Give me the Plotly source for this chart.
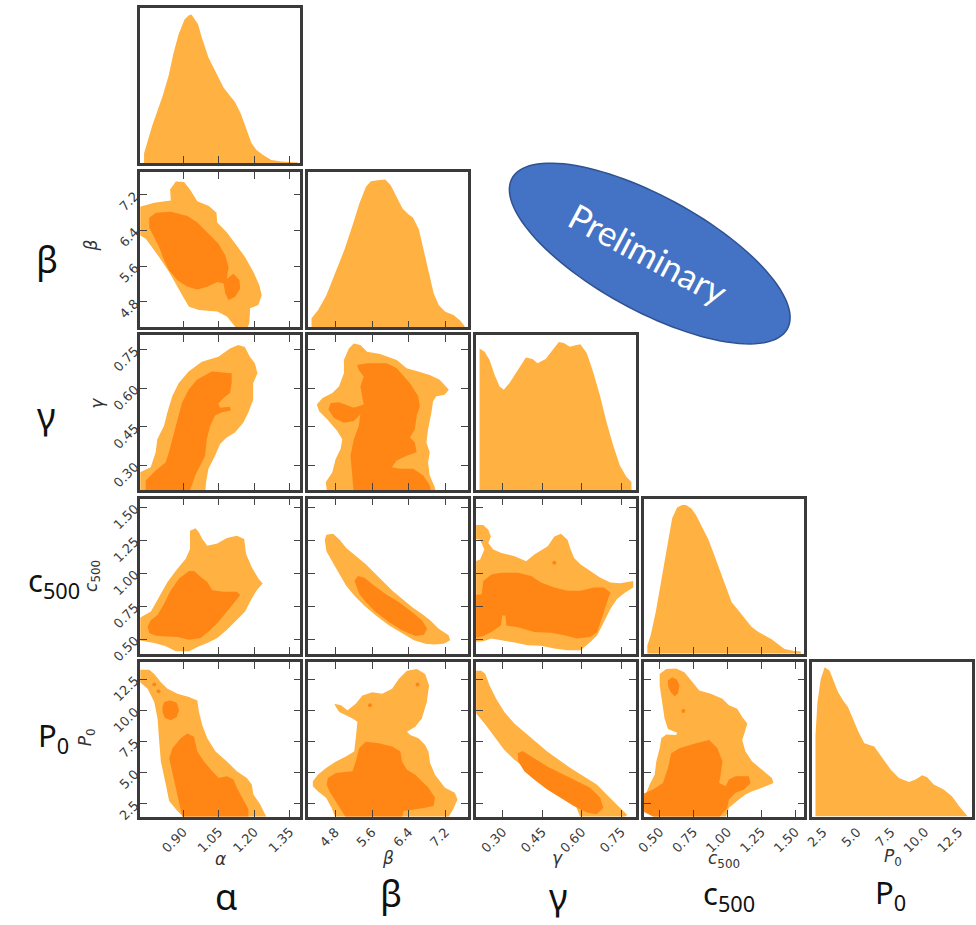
import numpy as np
import plotly.graph_objects as go

# ------------------------------------------------------------------ data
params = ["alpha", "beta", "gamma", "c500", "P0"]

# axis ranges (x for columns, y for rows)
alpha_xrange = [0.718, 1.394]
beta_xrange = [4.211, 7.683]
gamma_xrange = [0.199, 0.805]
c500_xrange = [0.385, 1.567]
P0_xrange = [1.645, 13.465]
beta_yrange = [4.232, 7.702]
gamma_yrange = [0.203, 0.805]
c500_yrange = [0.3875, 1.565]
P0_yrange = [1.468, 13.886]

alpha_ticks = [0.90, 1.05, 1.20, 1.35]
beta_ticks = [4.8, 5.6, 6.4, 7.2]
gamma_ticks = [0.30, 0.45, 0.60, 0.75]
c500_ticks = [0.50, 0.75, 1.00, 1.25, 1.50]
P0_ticks = [2.5, 5.0, 7.5, 10.0, 12.5]
alpha_ticklabels = ["0.90", "1.05", "1.20", "1.35"]
beta_ticklabels = ["4.8", "5.6", "6.4", "7.2"]
gamma_ticklabels = ["0.30", "0.45", "0.60", "0.75"]
c500_ticklabels = ["0.50", "0.75", "1.00", "1.25", "1.50"]
P0_ticklabels = ["2.5", "5.0", "7.5", "10.0", "12.5"]

# 1D marginal densities (relative height)
alpha_grid = [0.734, 0.769, 0.811, 0.838, 0.859, 0.880, 0.905, 0.922, 0.934, 0.943, 0.962, 0.978,
              1.006, 1.041, 1.069, 1.090, 1.118, 1.143, 1.167, 1.188, 1.209, 1.237, 1.272, 1.314, 1.383]
alpha_density = [0.064, 0.245, 0.426, 0.564, 0.713, 0.830, 0.926, 0.951, 0.957, 0.936, 0.894, 0.809,
                 0.681, 0.574, 0.489, 0.447, 0.394, 0.319, 0.213, 0.128, 0.085, 0.053, 0.021, 0.011, 0.004]
beta_grid = [4.283, 4.427, 4.606, 4.787, 5.003, 5.182, 5.326, 5.468, 5.576, 5.721, 5.887, 6.007, 6.152,
             6.260, 6.389, 6.490, 6.620, 6.727, 6.835, 6.943, 7.051, 7.193, 7.374, 7.517, 7.611]
beta_density = [0.059, 0.112, 0.207, 0.345, 0.503, 0.662, 0.799, 0.905, 0.941, 0.947, 0.953, 0.915, 0.831,
                0.767, 0.729, 0.708, 0.630, 0.493, 0.345, 0.218, 0.144, 0.101, 0.080, 0.044, 0.011]
gamma_grid = [0.212, 0.231, 0.250, 0.269, 0.288, 0.304, 0.325, 0.356, 0.388, 0.413, 0.432, 0.463, 0.488,
              0.513, 0.532, 0.555, 0.576, 0.595, 0.620, 0.645, 0.670, 0.695, 0.720, 0.745, 0.770, 0.789]
gamma_density = [0.915, 0.894, 0.840, 0.745, 0.670, 0.649, 0.691, 0.777, 0.857, 0.847, 0.819, 0.847, 0.904,
                 0.957, 0.951, 0.926, 0.936, 0.943, 0.883, 0.755, 0.606, 0.436, 0.287, 0.160, 0.085, 0.053]
c500_grid = [0.409, 0.434, 0.471, 0.500, 0.531, 0.563, 0.592, 0.629, 0.665, 0.694, 0.734, 0.768, 0.811, 0.860,
             0.897, 0.946, 0.994, 1.031, 1.080, 1.129, 1.177, 1.226, 1.275, 1.323, 1.372, 1.421, 1.494, 1.542]
c500_density = [0.053, 0.121, 0.269, 0.417, 0.587, 0.735, 0.873, 0.943, 0.958, 0.958, 0.936, 0.894, 0.820, 0.735,
                0.650, 0.534, 0.407, 0.333, 0.280, 0.227, 0.174, 0.142, 0.117, 0.095, 0.064, 0.032, 0.019, 0.015]
P0_grid = [1.937, 2.083, 2.325, 2.617, 2.982, 3.304, 3.597, 3.962, 4.328, 4.693, 5.102, 5.541, 6.272,
           6.886, 7.493, 8.099, 8.830, 9.320, 9.810, 10.176, 10.658, 11.389, 12.003, 12.610, 13.143]
P0_density = [0.527, 0.740, 0.889, 0.964, 0.942, 0.868, 0.804, 0.751, 0.708, 0.633, 0.548, 0.473, 0.452,
              0.377, 0.303, 0.249, 0.224, 0.239, 0.267, 0.254, 0.207, 0.175, 0.132, 0.058, 0.004]

# 2D credible regions: "_2s" = outer (light), "_1s" = inner (dark); vertices in data units
alpha_beta_2s = [(0.70, 6.906), (0.777, 7.016), (0.847, 7.068), (0.844, 7.311), (0.868, 7.495), (0.903, 7.481),
                 (0.928, 7.311), (0.959, 7.053), (1.008, 6.943), (1.040, 6.795), (1.043, 6.574), (1.084, 6.353),
                 (1.126, 6.059), (1.161, 5.801), (1.196, 5.469), (1.221, 5.175), (1.231, 4.954), (1.217, 4.733),
                 (1.182, 4.659), (1.179, 4.327), (1.168, 4.20), (1.126, 4.20), (1.084, 4.475), (1.043, 4.585),
                 (0.966, 4.622), (0.924, 4.696), (0.903, 4.880), (0.875, 5.138), (0.840, 5.469), (0.798, 5.801),
                 (0.763, 6.059), (0.742, 6.206), (0.70, 6.353)]
alpha_beta_1s = [(0.756, 6.685), (0.784, 6.795), (0.847, 6.818), (0.917, 6.722), (0.959, 6.574), (1.001, 6.353),
                 (1.049, 6.096), (1.077, 5.838), (1.091, 5.580), (1.084, 5.322), (1.112, 5.433), (1.137, 5.285),
                 (1.140, 5.101), (1.119, 4.917), (1.091, 4.843), (1.077, 4.990), (1.070, 5.212), (1.043, 5.248),
                 (1.001, 5.138), (0.959, 5.079), (0.917, 5.138), (0.875, 5.285), (0.840, 5.506), (0.819, 5.727),
                 (0.798, 6.022), (0.777, 6.243), (0.756, 6.464)]

alpha_gamma_2s = [(0.70, 0.19), (0.70, 0.266), (0.762, 0.292), (0.783, 0.350), (0.790, 0.401), (0.818, 0.452),
                  (0.832, 0.504), (0.853, 0.568), (0.880, 0.619), (0.922, 0.664), (0.978, 0.702), (1.048, 0.722),
                  (1.097, 0.754), (1.132, 0.767), (1.160, 0.760), (1.181, 0.722), (1.202, 0.696), (1.213, 0.658),
                  (1.195, 0.619), (1.195, 0.555), (1.174, 0.504), (1.153, 0.465), (1.118, 0.427), (1.083, 0.408),
                  (1.055, 0.382), (1.034, 0.337), (1.006, 0.286), (0.996, 0.234), (0.992, 0.19)]
alpha_gamma_1s = [(0.741, 0.19), (0.741, 0.241), (0.783, 0.279), (0.825, 0.311), (0.839, 0.350), (0.860, 0.427),
                  (0.880, 0.491), (0.894, 0.542), (0.922, 0.593), (0.957, 0.632), (1.020, 0.664), (1.104, 0.658),
                  (1.104, 0.619), (1.097, 0.581), (1.069, 0.561), (1.048, 0.540), (1.055, 0.523), (1.097, 0.527),
                  (1.100, 0.513), (1.062, 0.506), (1.034, 0.493), (1.013, 0.452), (0.999, 0.401), (0.992, 0.337),
                  (0.971, 0.299), (0.950, 0.260), (0.936, 0.222), (0.922, 0.19)]

beta_gamma_2s = [(4.628, 0.19), (4.592, 0.234), (4.736, 0.273), (4.808, 0.324), (4.916, 0.363), (4.952, 0.401),
                 (4.844, 0.433), (4.628, 0.478), (4.449, 0.510), (4.398, 0.536), (4.521, 0.561), (4.736, 0.581),
                 (4.880, 0.606), (4.988, 0.658), (4.988, 0.709), (5.096, 0.754), (5.203, 0.773), (5.347, 0.767),
                 (5.491, 0.741), (5.778, 0.732), (6.138, 0.709), (6.353, 0.677), (6.605, 0.664), (6.856, 0.651),
                 (7.072, 0.632), (7.273, 0.593), (7.180, 0.574), (7.000, 0.568), (6.928, 0.549), (6.892, 0.504),
                 (6.820, 0.440), (6.784, 0.388), (6.856, 0.350), (6.820, 0.311), (6.856, 0.260), (6.964, 0.215),
                 (7.000, 0.19)]
beta_gamma_1s = [(5.203, 0.19), (5.167, 0.260), (5.132, 0.337), (5.203, 0.401), (5.311, 0.452), (5.347, 0.497),
                 (5.203, 0.472), (4.988, 0.465), (4.772, 0.484), (4.650, 0.517), (4.700, 0.542), (4.880, 0.545),
                 (5.203, 0.523), (5.419, 0.536), (5.383, 0.568), (5.347, 0.606), (5.419, 0.645), (5.311, 0.670),
                 (5.275, 0.690), (5.491, 0.696), (5.922, 0.696), (6.138, 0.677), (6.425, 0.619), (6.605, 0.568),
                 (6.641, 0.529), (6.569, 0.491), (6.533, 0.440), (6.425, 0.408), (6.533, 0.388), (6.569, 0.350),
                 (6.353, 0.337), (6.138, 0.318), (6.030, 0.292), (6.210, 0.286), (6.497, 0.286), (6.713, 0.260),
                 (6.856, 0.222), (6.892, 0.19)]

alpha_c500_2s = [(0.70, 0.645), (0.763, 0.708), (0.798, 0.820), (0.833, 0.933), (0.875, 1.033), (0.910, 1.108),
                 (0.928, 1.183), (0.928, 1.320), (0.952, 1.340), (0.966, 1.308), (0.980, 1.258), (1.001, 1.208),
                 (1.043, 1.225), (1.084, 1.265), (1.126, 1.283), (1.157, 1.258), (1.165, 1.145), (1.189, 1.045),
                 (1.217, 0.958), (1.235, 0.920), (1.210, 0.870), (1.189, 0.808), (1.161, 0.708), (1.126, 0.645),
                 (1.084, 0.570), (1.043, 0.508), (1.001, 0.470), (0.966, 0.445), (0.924, 0.408), (0.868, 0.408),
                 (0.826, 0.445), (0.777, 0.470), (0.70, 0.495)]
alpha_c500_1s = [(0.749, 0.595), (0.763, 0.645), (0.791, 0.683), (0.819, 0.770), (0.847, 0.870), (0.882, 0.958),
                 (0.924, 1.015), (0.945, 1.015), (0.973, 0.970), (1.001, 0.933), (1.022, 0.870), (1.070, 0.858),
                 (1.126, 0.858), (1.140, 0.833), (1.112, 0.770), (1.077, 0.695), (1.043, 0.620), (1.008, 0.558),
                 (0.973, 0.508), (0.924, 0.495), (0.875, 0.515), (0.833, 0.520), (0.784, 0.525), (0.756, 0.545)]

beta_c500_2s = [(4.571, 1.253), (4.607, 1.290), (4.751, 1.298), (4.895, 1.253), (5.038, 1.190), (5.254, 1.128),
                (5.470, 1.065), (5.649, 1.003), (5.829, 0.940), (6.044, 0.865), (6.260, 0.803), (6.476, 0.740),
                (6.691, 0.690), (6.871, 0.640), (7.051, 0.578), (7.266, 0.528), (7.302, 0.490), (7.158, 0.465),
                (6.943, 0.458), (6.763, 0.465), (6.512, 0.490), (6.260, 0.540), (5.973, 0.603), (5.685, 0.678),
                (5.434, 0.753), (5.218, 0.828), (5.038, 0.903), (4.895, 0.990), (4.751, 1.078), (4.607, 1.165)]
beta_c500_1s = [(5.218, 0.940), (5.290, 0.978), (5.434, 0.965), (5.649, 0.903), (5.901, 0.840), (6.188, 0.778),
                (6.476, 0.703), (6.691, 0.640), (6.799, 0.578), (6.727, 0.533), (6.548, 0.523), (6.260, 0.565),
                (5.973, 0.628), (5.685, 0.703), (5.470, 0.778), (5.326, 0.840)]

gamma_c500_2s = [(0.182, 1.365), (0.226, 1.365), (0.245, 1.328), (0.255, 1.278), (0.245, 1.228), (0.264, 1.178),
                 (0.295, 1.153), (0.345, 1.128), (0.389, 1.090), (0.420, 1.140), (0.471, 1.203), (0.496, 1.278),
                 (0.521, 1.298), (0.546, 1.253), (0.558, 1.178), (0.571, 1.115), (0.596, 1.065), (0.633, 1.015),
                 (0.671, 0.965), (0.709, 0.928), (0.746, 0.923), (0.796, 0.940), (0.796, 0.890), (0.765, 0.853),
                 (0.734, 0.803), (0.709, 0.728), (0.690, 0.653), (0.671, 0.578), (0.659, 0.528), (0.633, 0.478),
                 (0.596, 0.415), (0.546, 0.415), (0.496, 0.428), (0.445, 0.448), (0.395, 0.453), (0.345, 0.473),
                 (0.295, 0.490), (0.257, 0.503), (0.226, 0.483), (0.182, 0.478), (0.182, 1.078), (0.214, 1.103),
                 (0.230, 1.178), (0.214, 1.253), (0.182, 1.265)]
gamma_c500_1s = [(0.182, 0.828), (0.220, 0.840), (0.226, 0.940), (0.257, 0.990), (0.295, 1.003), (0.358, 1.003),
                 (0.408, 0.978), (0.445, 0.928), (0.496, 0.890), (0.546, 0.865), (0.596, 0.865), (0.646, 0.890),
                 (0.684, 0.890), (0.709, 0.853), (0.696, 0.778), (0.684, 0.703), (0.671, 0.615), (0.659, 0.553),
                 (0.633, 0.515), (0.583, 0.503), (0.533, 0.528), (0.483, 0.548), (0.420, 0.553), (0.358, 0.590),
                 (0.314, 0.603), (0.310, 0.678), (0.298, 0.678), (0.293, 0.603), (0.257, 0.553), (0.226, 0.523),
                 (0.182, 0.503)]
gamma_c500_dots = [(0.496, 1.078)]

alpha_P0_2s = [(0.70, 13.248), (0.756, 13.248), (0.777, 12.904), (0.805, 12.242), (0.833, 11.713), (0.875, 11.316),
               (0.924, 11.051), (0.959, 10.787), (0.966, 9.860), (0.980, 8.802), (1.001, 7.743), (1.036, 6.684),
               (1.084, 5.890), (1.126, 5.096), (1.168, 4.567), (1.189, 4.037), (1.196, 3.243), (1.224, 2.449),
               (1.252, 1.40), (0.903, 1.40), (0.875, 1.920), (0.840, 2.714), (0.826, 4.037), (0.805, 5.890),
               (0.798, 7.478), (0.791, 9.331), (0.777, 10.654), (0.749, 11.713), (0.70, 12.507)]
alpha_P0_1s = [(0.896, 1.40), (0.875, 3.243), (0.854, 4.831), (0.840, 6.155), (0.854, 6.949), (0.889, 7.743),
               (0.917, 8.140), (0.945, 7.875), (0.959, 6.684), (0.987, 5.890), (1.022, 5.096), (1.049, 4.567),
               (1.084, 4.699), (1.112, 4.434), (1.126, 3.773), (1.154, 2.846), (1.175, 2.052), (1.175, 1.40)]
alpha_P0_1s_island = [(0.812, 10.257), (0.819, 10.654), (0.844, 10.787), (0.872, 10.601), (0.882, 9.992),
                      (0.872, 9.463), (0.847, 9.198), (0.822, 9.384), (0.812, 9.860)]
alpha_P0_dots = [(0.777, 12.057), (0.795, 11.527)]

beta_P0_2s = [(4.312, 4.302), (4.420, 4.831), (4.600, 5.361), (4.815, 5.890), (5.031, 6.287), (5.211, 6.684),
              (5.246, 7.743), (5.282, 9.066), (5.175, 9.331), (5.031, 9.596), (4.887, 9.860), (4.815, 10.257),
              (4.779, 10.522), (4.923, 10.389), (5.067, 9.992), (5.246, 10.522), (5.390, 11.183), (5.606, 11.448),
              (5.821, 11.316), (6.037, 11.713), (6.181, 12.507), (6.360, 13.168), (6.576, 13.301), (6.756, 12.904),
              (6.842, 11.977), (6.792, 10.654), (6.684, 9.331), (6.540, 8.669), (6.360, 8.272), (6.432, 8.008),
              (6.612, 7.743), (6.756, 7.213), (6.828, 6.684), (6.864, 5.758), (6.971, 4.831), (7.187, 3.773),
              (7.402, 3.376), (7.460, 2.846), (7.367, 2.052), (7.259, 1.40), (4.80, 1.40), (4.72, 2.185),
              (4.600, 2.979), (4.420, 3.508), (4.312, 3.905)]
beta_P0_1s = [(4.636, 4.567), (4.815, 4.964), (5.175, 5.096), (5.246, 5.890), (5.318, 6.949), (5.462, 7.478),
              (5.749, 7.346), (6.037, 7.081), (6.217, 6.684), (6.253, 5.890), (6.360, 5.228), (6.540, 4.831),
              (6.684, 4.302), (6.828, 3.773), (6.971, 2.979), (6.936, 2.317), (6.756, 2.185), (6.468, 2.052),
              (6.288, 1.920), (6.253, 1.40), (5.03, 1.40), (4.85, 2.449), (4.671, 3.508), (4.614, 4.037)]
beta_P0_dots = [(6.590, 12.057), (5.556, 10.389)]

gamma_P0_2s = [(0.194, 13.168), (0.219, 13.168), (0.234, 12.904), (0.250, 11.977), (0.275, 10.919), (0.306, 9.860),
               (0.344, 8.934), (0.388, 8.140), (0.425, 7.478), (0.469, 6.684), (0.513, 6.022), (0.557, 5.361),
               (0.607, 4.699), (0.657, 4.037), (0.707, 2.979), (0.745, 2.185), (0.773, 1.602), (0.760, 1.40),
               (0.595, 1.40), (0.570, 2.714), (0.519, 3.508), (0.469, 4.169), (0.425, 4.831), (0.382, 5.493),
               (0.344, 6.022), (0.306, 6.817), (0.269, 7.875), (0.231, 8.934), (0.194, 9.860)]
gamma_P0_1s = [(0.357, 6.552), (0.375, 6.737), (0.419, 6.155), (0.469, 5.493), (0.519, 4.964), (0.570, 4.434),
               (0.632, 3.773), (0.670, 2.979), (0.682, 2.185), (0.657, 1.655), (0.620, 1.788), (0.570, 2.317),
               (0.519, 2.979), (0.469, 3.640), (0.419, 4.434), (0.382, 5.096), (0.359, 5.890)]

c500_P0_2s = [(0.500, 12.904), (0.548, 13.301), (0.621, 13.354), (0.682, 13.036), (0.743, 12.242), (0.792, 11.580),
              (0.877, 11.316), (0.963, 10.919), (1.011, 10.389), (1.072, 10.125), (1.109, 9.463), (1.146, 8.934),
              (1.129, 8.272), (1.109, 7.610), (1.133, 6.684), (1.182, 5.890), (1.255, 5.228), (1.328, 4.567),
              (1.340, 4.169), (1.255, 3.773), (1.182, 3.508), (1.133, 3.243), (1.085, 2.846), (1.011, 2.185),
              (0.987, 1.40), (0.463, 1.40), (0.402, 1.920), (0.36, 2.582), (0.397, 3.243), (0.426, 4.037),
              (0.463, 4.831), (0.475, 5.890), (0.500, 6.949), (0.512, 7.743), (0.548, 8.060), (0.621, 8.008),
              (0.629, 8.193), (0.561, 8.484), (0.536, 9.331), (0.524, 10.125), (0.512, 11.183), (0.500, 11.977)]
c500_P0_1s = [(0.37, 3.243), (0.451, 3.640), (0.524, 4.169), (0.561, 5.361), (0.585, 6.552), (0.646, 6.949),
              (0.768, 7.346), (0.865, 7.610), (0.926, 6.949), (0.963, 5.890), (0.950, 4.831), (0.938, 4.169),
              (0.987, 3.905), (1.011, 4.434), (1.060, 4.699), (1.158, 4.699), (1.170, 4.169), (1.121, 3.640),
              (1.060, 3.376), (1.011, 2.846), (0.999, 2.185), (0.938, 1.40), (0.463, 1.40), (0.37, 1.920)]
c500_P0_1s_island = [(0.561, 12.375), (0.592, 12.639), (0.626, 12.454), (0.646, 11.977), (0.634, 11.316),
                     (0.609, 11.130), (0.578, 11.501), (0.561, 11.977)]
c500_P0_dots = [(0.675, 9.939)]

# ------------------------------------------------------------------ style
W, H = 976, 925
LIGHT = "#FFB142"
DARK = "#FF8514"
FRAME = "#3a3a3a"
TICKC = "#444444"

col_px = [(132.5, 294), (302, 463), (471.5, 632.5), (641, 802.7), (810, 971.7)]
row_px = [(8, 165), (174, 331), (339, 495.5), (504, 661), (669, 825.5)]

xranges = [alpha_xrange, beta_xrange, gamma_xrange, c500_xrange, P0_xrange]
yranges = [None, beta_yrange, gamma_yrange, c500_yrange, P0_yrange]
ticks = [alpha_ticks, beta_ticks, gamma_ticks, c500_ticks, P0_ticks]
ticklabels = [alpha_ticklabels, beta_ticklabels, gamma_ticklabels, c500_ticklabels, P0_ticklabels]
grids = [alpha_grid, beta_grid, gamma_grid, c500_grid, P0_grid]
dens = [alpha_density, beta_density, gamma_density, c500_density, P0_density]

regions = {
    (1, 0): ([alpha_beta_2s], [alpha_beta_1s], []),
    (2, 0): ([alpha_gamma_2s], [alpha_gamma_1s], []),
    (2, 1): ([beta_gamma_2s], [beta_gamma_1s], []),
    (3, 0): ([alpha_c500_2s], [alpha_c500_1s], []),
    (3, 1): ([beta_c500_2s], [beta_c500_1s], []),
    (3, 2): ([gamma_c500_2s], [gamma_c500_1s], gamma_c500_dots),
    (4, 0): ([alpha_P0_2s], [alpha_P0_1s, alpha_P0_1s_island], alpha_P0_dots),
    (4, 1): ([beta_P0_2s], [beta_P0_1s], beta_P0_dots),
    (4, 2): ([gamma_P0_2s], [gamma_P0_1s], []),
    (4, 3): ([c500_P0_2s], [c500_P0_1s, c500_P0_1s_island], c500_P0_dots),
}


def poly_xy(polys):
    xs, ys = [], []
    for p in polys:
        xs += [q[0] for q in p] + [p[0][0], None]
        ys += [q[1] for q in p] + [p[0][1], None]
    return xs, ys


fig = go.Figure()
layout = dict(width=W, height=H, margin=dict(l=0, r=0, t=0, b=0), autosize=False,
              paper_bgcolor="white", plot_bgcolor="white", showlegend=False)

tickfont = dict(family="DejaVu Sans", size=13, color="#3a3a3a")
panels = [(r, c) for r in range(5) for c in range(r + 1)]
for k, (r, c) in enumerate(panels, start=1):
    sx = "" if k == 1 else str(k)
    xs_id, ys_id = "x" + sx, "y" + sx
    x0, x1 = col_px[c]
    y0, y1 = row_px[r]
    base = dict(showline=True, linewidth=2.5, linecolor=FRAME, showgrid=False, zeroline=False,
                ticklen=7, tickwidth=1.3, tickcolor=TICKC, tickfont=tickfont, tickangle=-45)
    xa = dict(base, domain=[x0 / W, x1 / W], anchor=ys_id, range=xranges[c],
              tickmode="array", tickvals=ticks[c], ticktext=ticklabels[c],
              showticklabels=(r == 4))
    if r == c:
        xa.update(mirror=True, ticks="" if c == 4 else "inside")
        ya = dict(base, domain=[1 - y1 / H, 1 - y0 / H], anchor=xs_id, range=[0, 1],
                  mirror=True, ticks="", showticklabels=False)
        fig.add_trace(go.Scatter(x=grids[c], y=dens[c], mode="lines", line=dict(width=0, color=LIGHT),
                                 fill="tozeroy", fillcolor=LIGHT, xaxis=xs_id, yaxis=ys_id,
                                 hoverinfo="skip"))
    else:
        xa.update(mirror="ticks", ticks="inside")
        ya = dict(base, domain=[1 - y1 / H, 1 - y0 / H], anchor=xs_id, range=yranges[r],
                  tickmode="array", tickvals=ticks[r], ticktext=ticklabels[r],
                  mirror="ticks", ticks="inside", showticklabels=(c == 0))
        outer, inner, dots = regions[(r, c)]
        ox, oy = poly_xy(outer)
        ix, iy = poly_xy(inner)
        fig.add_trace(go.Scatter(x=ox, y=oy, mode="lines", line=dict(width=0, color=LIGHT),
                                 fill="toself", fillcolor=LIGHT, xaxis=xs_id, yaxis=ys_id,
                                 hoverinfo="skip"))
        fig.add_trace(go.Scatter(x=ix, y=iy, mode="lines", line=dict(width=0, color=DARK),
                                 fill="toself", fillcolor=DARK, xaxis=xs_id, yaxis=ys_id,
                                 hoverinfo="skip"))
        if dots:
            fig.add_trace(go.Scatter(x=[d[0] for d in dots], y=[d[1] for d in dots], mode="markers",
                                     marker=dict(size=4, color=DARK), xaxis=xs_id, yaxis=ys_id,
                                     hoverinfo="skip"))
    layout["xaxis" + sx] = xa
    layout["yaxis" + sx] = ya

fig.update_layout(**layout)

# ------------------------------------------------------------------ labels
small_font = dict(family="DejaVu Sans", size=17, color="#333333")
big_font = dict(family="Noto Sans", size=36, color="#111111")
big_font2 = dict(family="Noto Sans", size=31, color="#111111")

x_small = [("<i>α</i>", 213, 868), ("<i>β</i>", 383, 867), ("<i>γ</i>", 554, 867),
           ("<i>c</i><sub>500</sub>", 722, 869), ("<i>P</i><sub>0</sub>", 892, 867)]
y_small = [("<i>β</i>", 83, 248), ("<i>γ</i>", 88, 408), ("<i>c</i><sub>500</sub>", 84, 582),
           ("<i>P</i><sub>0</sub>", 79, 745)]
x_big = [("α", 219, 906, big_font), ("β", 386, 903, big_font), ("γ", 555, 906, big_font),
         ("c<sub>500</sub>", 727, 905, big_font2), ("P<sub>0</sub>", 890, 904, big_font2)]
y_big = [("β", 38, 262, big_font), ("γ", 38, 420, big_font), ("c<sub>500</sub>", 45, 588, big_font2),
         ("P<sub>0</sub>", 45, 745, big_font2)]

annots = []
for t, px, py in x_small:
    annots.append(dict(text=t, x=px / W, y=1 - py / H, xref="paper", yref="paper", showarrow=False,
                       font=small_font, xanchor="center", yanchor="middle"))
for t, px, py in y_small:
    annots.append(dict(text=t, x=px / W, y=1 - py / H, xref="paper", yref="paper", showarrow=False,
                       font=small_font, xanchor="center", yanchor="middle", textangle=-90))
for t, px, py, f in x_big + y_big:
    annots.append(dict(text=t, x=px / W, y=1 - py / H, xref="paper", yref="paper", showarrow=False,
                       font=f, xanchor="center", yanchor="middle"))

# "Preliminary" stamp
cx, cy, a, b, th = 646.7, 256.3, 158.4, 57.7, np.deg2rad(28.7)
t = np.linspace(0, 2 * np.pi, 120)
ex = cx + a * np.cos(th) * np.cos(t) - b * np.sin(th) * np.sin(t)
ey = cy + a * np.sin(th) * np.cos(t) + b * np.cos(th) * np.sin(t)
path = "M " + " L ".join(f"{x / W:.5f},{1 - y / H:.5f}" for x, y in zip(ex, ey)) + " Z"
fig.add_shape(type="path", path=path, xref="paper", yref="paper", fillcolor="#4472C4",
              line=dict(color="#2F528F", width=1.5), layer="above")
annots.append(dict(text="Preliminary", x=645 / W, y=1 - 256 / H, xref="paper", yref="paper",
                   showarrow=False, textangle=28, font=dict(family="Lato", size=35, color="white"),
                   xanchor="center", yanchor="middle"))

fig.update_layout(annotations=annots)
fig.write_html("out.html", config={"displayModeBar": False},
               post_script="document.body.style.margin='0px';document.body.style.overflow='hidden';")
